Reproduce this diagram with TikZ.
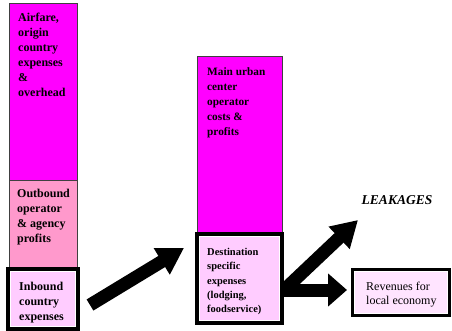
\documentclass[tikz,border=0pt]{standalone}
\usepackage{fontspec}
\setmainfont{Liberation Serif}
\usetikzlibrary{arrows.meta,backgrounds}
\definecolor{mag}{HTML}{FF00FF}
\definecolor{outpink}{HTML}{FF99CC}
\definecolor{inpink}{HTML}{FFCCFF}
\definecolor{revpink}{HTML}{FFE4FF}
\definecolor{edge}{HTML}{404040}
\tikzset{
  colbox/.style={rectangle, draw=edge, line width=0.8pt, outer sep=0pt, inner sep=0pt, anchor=north west},
  thickbox/.style 2 args={rectangle, draw=black, line width=#1, fill=#2, outer sep=0pt, inner sep=0pt, anchor=north west},
  gap/.style={draw=white, line width=1pt},
  lbl/.style={anchor=north west, inner sep=0pt, align=left, text=black},
  bigarrow/.style={line width=13pt, -{Triangle[width=29pt,length=26pt]}},
  harrow/.style={line width=13pt, -{Triangle[width=32pt,length=19pt]}}
}
\begin{document}
\begin{tikzpicture}[x=1pt,y=-1pt]
\useasboundingbox (0,0) rectangle (452,331);
% left column
\node[colbox, fill=mag, minimum width=68pt, minimum height=177pt] (air) at (9,3) {};
\node[colbox, fill=outpink, minimum width=68pt, minimum height=88pt] (outb) at (9,180) {};
\node[thickbox={4pt}{inpink}, minimum width=70pt, minimum height=60pt] (inb) at (8,269) {};
\draw[gap] ([shift={(2.5pt,-2.5pt)}]inb.north west) rectangle ([shift={(-2.5pt,2.5pt)}]inb.south east);
\node[lbl, font=\fontsize{12}{15}\selectfont\bfseries] (airtxt) at (18,13) {Airfare,\\origin\\country\\expenses\\\&\\overhead};
\node[lbl, font=\fontsize{12}{15}\selectfont\bfseries] (outtxt) at (17,189) {Outbound\\operator\\\& agency\\profits};
\node[lbl, font=\fontsize{12}{15}\selectfont\bfseries] (intxt) at (19,282) {Inbound\\country\\expenses};
% middle column
\node[colbox, fill=mag, minimum width=85pt, minimum height=177pt] (urban) at (197,56) {};
\node[thickbox={4pt}{inpink}, minimum width=85pt, minimum height=89pt] (dest) at (197,234) {};
\draw[gap] ([shift={(2.5pt,-2.5pt)}]dest.north west) rectangle ([shift={(-2.5pt,2.5pt)}]dest.south east);
\node[lbl, font=\fontsize{11.3}{15}\selectfont\bfseries] (urbantxt) at (207,67) {Main urban\\center\\operator\\costs \&\\profits};
\node[lbl, font=\fontsize{10.5}{14.3}\selectfont\bfseries] (desttxt) at (207,248) {Destination\\specific\\expenses\\(lodging,\\foodservice)};
% right
\node[thickbox={3.5pt}{revpink}, minimum width=97pt, minimum height=46pt] (rev) at (352.5,269.5) {};
\draw[gap] ([shift={(2.25pt,-2.25pt)}]rev.north west) rectangle ([shift={(-2.25pt,2.25pt)}]rev.south east);
\node[lbl, font=\fontsize{12}{14}\selectfont] (revtxt) at (366,282) {Revenues for\\local economy};
\node[font=\fontsize{13.5}{16}\selectfont\bfseries\itshape, inner sep=0pt] (leak) at (397,200) {LEAKAGES};
% arrows
\coordinate (a1s) at (90,305);
\coordinate (a1e) at (184,248);
\coordinate (a2s) at (284,290);
\coordinate (a2e) at (358,220);
\coordinate (a3e) at (347,290);
\begin{pgfonlayer}{background}
\draw[bigarrow] (a1s) -- (a1e);
\draw[bigarrow] (a2s) -- (a2e);
\draw[harrow] (a2s) -- (a3e);
\end{pgfonlayer}
\end{tikzpicture}
\end{document}
